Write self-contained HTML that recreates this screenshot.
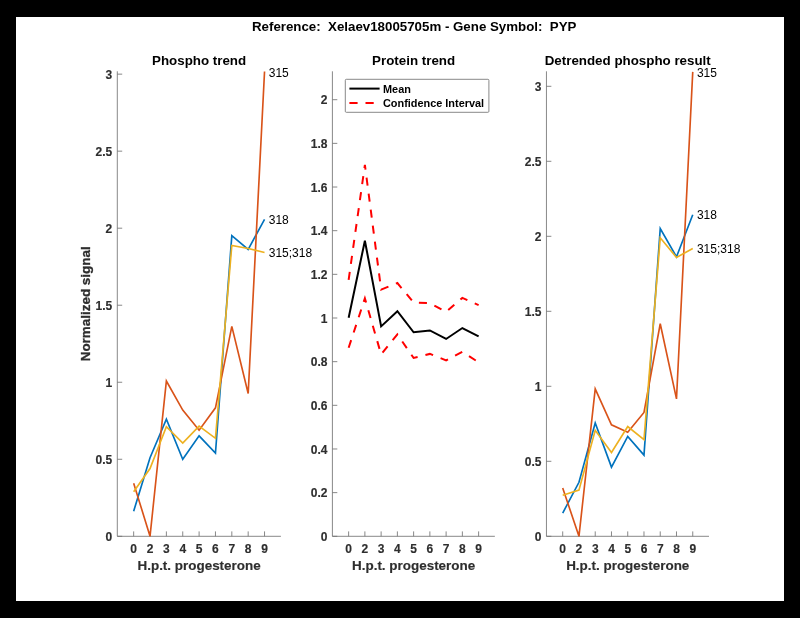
<!DOCTYPE html>
<html><head><meta charset="utf-8"><title>Figure</title>
<style>
html,body{margin:0;padding:0;background:#000;}
svg{display:block;will-change:transform;}
text{font-family:"Liberation Sans",sans-serif;}
.tk{font-size:12px;font-weight:bold;fill:#2e2e2e;stroke:#2e2e2e;stroke-width:0.15px;}
.lab{font-size:13.45px;font-weight:bold;fill:#2e2e2e;stroke:#2e2e2e;stroke-width:0.15px;}
.yl{stroke-width:0.3px;}
.tt{font-size:13.35px;font-weight:bold;fill:#000;}
.st{font-size:13.3px;font-weight:bold;fill:#000;white-space:pre;}
.dl{font-size:12px;fill:#000;}
.lg{font-size:10.9px;font-weight:bold;fill:#000;}
</style></head><body>
<svg width="800" height="618" viewBox="0 0 800 618">
<rect width="800" height="618" fill="#000"/>
<rect x="16" y="17" width="768" height="584" fill="#fff"/>
<path d="M117.3 71.3V536.3H280.9" fill="none" stroke="#737373" stroke-width="0.85"/>
<path d="M133.66 536.3v-4.9M150.02 536.3v-4.9M166.38 536.3v-4.9M182.74 536.3v-4.9M199.1 536.3v-4.9M215.46 536.3v-4.9M231.82 536.3v-4.9M248.18 536.3v-4.9M264.54 536.3v-4.9M117.3 536.3h4.9M117.3 459.27h4.9M117.3 382.25h4.9M117.3 305.22h4.9M117.3 228.2h4.9M117.3 151.17h4.9M117.3 74.15h4.9" fill="none" stroke="#737373" stroke-width="0.85"/>
<text x="133.66" y="552.6" text-anchor="middle" class="tk">0</text>
<text x="150.02" y="552.6" text-anchor="middle" class="tk">2</text>
<text x="166.38" y="552.6" text-anchor="middle" class="tk">3</text>
<text x="182.74" y="552.6" text-anchor="middle" class="tk">4</text>
<text x="199.1" y="552.6" text-anchor="middle" class="tk">5</text>
<text x="215.46" y="552.6" text-anchor="middle" class="tk">6</text>
<text x="231.82" y="552.6" text-anchor="middle" class="tk">7</text>
<text x="248.18" y="552.6" text-anchor="middle" class="tk">8</text>
<text x="264.54" y="552.6" text-anchor="middle" class="tk">9</text>
<text x="112.3" y="540.9" text-anchor="end" class="tk">0</text>
<text x="112.3" y="463.88" text-anchor="end" class="tk">0.5</text>
<text x="112.3" y="386.85" text-anchor="end" class="tk">1</text>
<text x="112.3" y="309.82" text-anchor="end" class="tk">1.5</text>
<text x="112.3" y="232.8" text-anchor="end" class="tk">2</text>
<text x="112.3" y="155.77" text-anchor="end" class="tk">2.5</text>
<text x="112.3" y="78.75" text-anchor="end" class="tk">3</text>
<text x="199.1" y="570" text-anchor="middle" class="lab">H.p.t. progesterone</text>
<polyline points="133.66,511.19 150.02,457.73 166.38,419.22 182.74,459.27 199.1,435.86 215.46,453.11 231.82,235.59 248.18,249.46 264.54,219.27" fill="none" stroke="#0072BD" stroke-width="1.65" stroke-linejoin="miter" />
<polyline points="133.66,483.15 150.02,536.3 166.38,381.02 182.74,410.13 199.1,430.16 215.46,407.82 231.82,326.33 248.18,393.5 264.54,71.48" fill="none" stroke="#D95319" stroke-width="1.65" stroke-linejoin="miter" />
<polyline points="133.66,491.78 150.02,468.52 166.38,426.77 182.74,443.1 199.1,426.15 215.46,438.32 231.82,245.45 248.18,248.53 264.54,252.54" fill="none" stroke="#EDB120" stroke-width="1.65" stroke-linejoin="miter" />
<text x="268.74" y="76.68" class="dl">315</text>
<text x="268.74" y="223.97" class="dl">318</text>
<text x="268.74" y="257.24" class="dl">315;318</text>
<text x="199.1" y="65.3" text-anchor="middle" class="tt">Phospho trend</text>
<text transform="translate(89.7 303.8) rotate(-90)" text-anchor="middle" class="lab yl">Normalized signal</text>
<path d="M332.4 71.3V536.3H494.85" fill="none" stroke="#737373" stroke-width="0.85"/>
<path d="M348.64 536.3v-4.9M364.89 536.3v-4.9M381.13 536.3v-4.9M397.38 536.3v-4.9M413.62 536.3v-4.9M429.87 536.3v-4.9M446.12 536.3v-4.9M462.36 536.3v-4.9M478.61 536.3v-4.9M332.4 536.3h4.9M332.4 492.64h4.9M332.4 448.98h4.9M332.4 405.32h4.9M332.4 361.66h4.9M332.4 318h4.9M332.4 274.34h4.9M332.4 230.68h4.9M332.4 187.02h4.9M332.4 143.36h4.9M332.4 99.7h4.9" fill="none" stroke="#737373" stroke-width="0.85"/>
<text x="348.64" y="552.6" text-anchor="middle" class="tk">0</text>
<text x="364.89" y="552.6" text-anchor="middle" class="tk">2</text>
<text x="381.13" y="552.6" text-anchor="middle" class="tk">3</text>
<text x="397.38" y="552.6" text-anchor="middle" class="tk">4</text>
<text x="413.62" y="552.6" text-anchor="middle" class="tk">5</text>
<text x="429.87" y="552.6" text-anchor="middle" class="tk">6</text>
<text x="446.12" y="552.6" text-anchor="middle" class="tk">7</text>
<text x="462.36" y="552.6" text-anchor="middle" class="tk">8</text>
<text x="478.61" y="552.6" text-anchor="middle" class="tk">9</text>
<text x="327.4" y="540.9" text-anchor="end" class="tk">0</text>
<text x="327.4" y="497.24" text-anchor="end" class="tk">0.2</text>
<text x="327.4" y="453.58" text-anchor="end" class="tk">0.4</text>
<text x="327.4" y="409.92" text-anchor="end" class="tk">0.6</text>
<text x="327.4" y="366.26" text-anchor="end" class="tk">0.8</text>
<text x="327.4" y="322.6" text-anchor="end" class="tk">1</text>
<text x="327.4" y="278.94" text-anchor="end" class="tk">1.2</text>
<text x="327.4" y="235.28" text-anchor="end" class="tk">1.4</text>
<text x="327.4" y="191.62" text-anchor="end" class="tk">1.6</text>
<text x="327.4" y="147.96" text-anchor="end" class="tk">1.8</text>
<text x="327.4" y="104.3" text-anchor="end" class="tk">2</text>
<text x="413.62" y="570" text-anchor="middle" class="lab">H.p.t. progesterone</text>
<polyline points="348.64,317.78 364.89,240.72 381.13,326.4 397.38,311.23 413.62,332.28 429.87,330.44 446.12,338.96 462.36,328.04 478.61,336.34" fill="none" stroke="#000" stroke-width="2.0" stroke-linejoin="miter" />
<polyline points="348.64,279.8 364.89,164.97 381.13,289.62 397.38,283.07 413.62,302.5 429.87,303.16 446.12,311.89 462.36,297.92 478.61,305.12" fill="none" stroke="#FF0000" stroke-width="2.0" stroke-linejoin="miter" stroke-dasharray="8.05 8.05"/>
<polyline points="348.64,347.8 364.89,298.35 381.13,354.46 397.38,334.37 413.62,357.95 429.87,353.91 446.12,360.35 462.36,351.84 478.61,362.31" fill="none" stroke="#FF0000" stroke-width="2.0" stroke-linejoin="miter" stroke-dasharray="8.05 8.05"/>
<text x="413.62" y="65.3" text-anchor="middle" class="tt">Protein trend</text>
<rect x="345.3" y="79.3" width="143.6" height="33" rx="1" fill="#fff" stroke="#7a7a7a" stroke-width="0.9"/>
<path d="M349.4 88.6H379.6" stroke="#000" stroke-width="2"/>
<path d="M349.4 103H379.6" stroke="#FF0000" stroke-width="2" stroke-dasharray="8.2 7.9"/>
<text x="383" y="92.9" class="lg">Mean</text>
<text x="383" y="107.3" class="lg">Confidence Interval</text>
<path d="M546.45 71.3V536.3H709" fill="none" stroke="#737373" stroke-width="0.85"/>
<path d="M562.71 536.3v-4.9M578.96 536.3v-4.9M595.22 536.3v-4.9M611.47 536.3v-4.9M627.73 536.3v-4.9M643.98 536.3v-4.9M660.24 536.3v-4.9M676.49 536.3v-4.9M692.75 536.3v-4.9M546.45 536.3h4.9M546.45 461.3h4.9M546.45 386.3h4.9M546.45 311.3h4.9M546.45 236.3h4.9M546.45 161.3h4.9M546.45 86.3h4.9" fill="none" stroke="#737373" stroke-width="0.85"/>
<text x="562.71" y="552.6" text-anchor="middle" class="tk">0</text>
<text x="578.96" y="552.6" text-anchor="middle" class="tk">2</text>
<text x="595.22" y="552.6" text-anchor="middle" class="tk">3</text>
<text x="611.47" y="552.6" text-anchor="middle" class="tk">4</text>
<text x="627.73" y="552.6" text-anchor="middle" class="tk">5</text>
<text x="643.98" y="552.6" text-anchor="middle" class="tk">6</text>
<text x="660.24" y="552.6" text-anchor="middle" class="tk">7</text>
<text x="676.49" y="552.6" text-anchor="middle" class="tk">8</text>
<text x="692.75" y="552.6" text-anchor="middle" class="tk">9</text>
<text x="541.45" y="540.9" text-anchor="end" class="tk">0</text>
<text x="541.45" y="465.9" text-anchor="end" class="tk">0.5</text>
<text x="541.45" y="390.9" text-anchor="end" class="tk">1</text>
<text x="541.45" y="315.9" text-anchor="end" class="tk">1.5</text>
<text x="541.45" y="240.9" text-anchor="end" class="tk">2</text>
<text x="541.45" y="165.9" text-anchor="end" class="tk">2.5</text>
<text x="541.45" y="90.9" text-anchor="end" class="tk">3</text>
<text x="627.73" y="570" text-anchor="middle" class="lab">H.p.t. progesterone</text>
<polyline points="562.71,513.05 578.96,482.3 595.22,423.05 611.47,467.15 627.73,436.4 643.98,455.15 660.24,228.5 676.49,256.85 692.75,214.7" fill="none" stroke="#0072BD" stroke-width="1.65" stroke-linejoin="miter" />
<polyline points="562.71,488 578.96,536.3 595.22,388.85 611.47,424.85 627.73,432.35 643.98,412.4 660.24,323.75 676.49,398.9 692.75,71.9" fill="none" stroke="#D95319" stroke-width="1.65" stroke-linejoin="miter" />
<polyline points="562.71,495.2 578.96,490.1 595.22,430.25 611.47,452.45 627.73,426.5 643.98,439.55 660.24,237.8 676.49,257.45 692.75,248.45" fill="none" stroke="#EDB120" stroke-width="1.65" stroke-linejoin="miter" />
<text x="696.95" y="77.1" class="dl">315</text>
<text x="696.95" y="219.4" class="dl">318</text>
<text x="696.95" y="253.15" class="dl">315;318</text>
<text x="627.73" y="65.3" text-anchor="middle" class="tt">Detrended phospho result</text>
<text x="414.2" y="31" text-anchor="middle" class="st" xml:space="preserve">Reference:  Xelaev18005705m - Gene Symbol:  PYP</text>
</svg>
</body></html>
